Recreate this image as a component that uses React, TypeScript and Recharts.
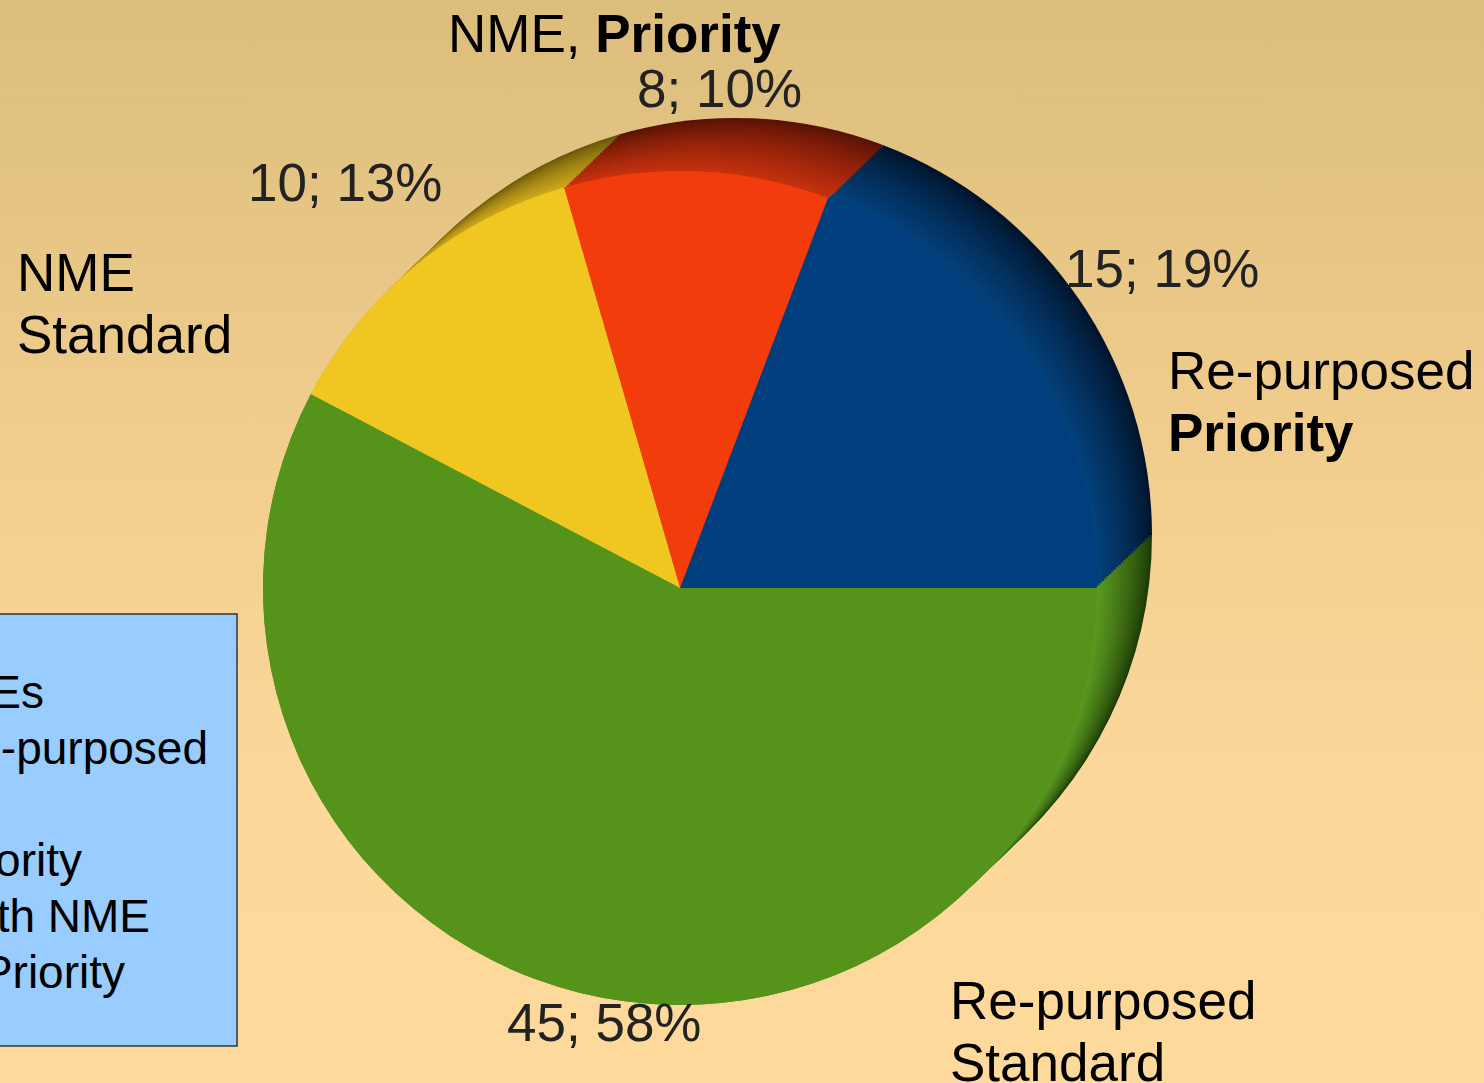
import React from 'react';
import { PieChart, Pie, Cell } from 'recharts';

const categories = ['Re-purposed Priority', 'NME Priority', 'NME Standard', 'Re-purposed Standard'];
const counts = [15, 8, 10, 45];
const faceColors = ['#013e7d', '#f23c0c', '#f0c721', '#56931a'];
const sideNearColors = ['#04437f', '#c8320e', '#cfaa1c', '#5c9c20'];
const sideFarColors = ['#01142c', '#581206', '#6a570b', '#1d3a07'];
// label text per slice: each line is a list of [text, bold]
const nameLines: [string, boolean][][][] = [
  [[['Re-purposed', false]], [['Priority', true]]],
  [[['NME, ', false], ['Priority', true]]],
  [[['NME', false]], [['Standard', false]]],
  [[['Re-purposed', false]], [['Standard', false]]],
];
const legendLines = ['NMEs', 'Re-purposed', '', 'Priority', 'with NME', 'Priority'];

const data = categories.map((name, i) => ({ name, value: counts[i] }));

const FONT = '"Liberation Sans", Arial, sans-serif';
const CX = 680;
const CY = 588;
const R = 417;
// extrusion of the 3d pie, towards the top right
const DEPTH_X = 55;
const DEPTH_Y = -53;
const LAYERS = 24;

function mix(a: string, b: string, t: number) {
  const pa = [1, 3, 5].map((k) => parseInt(a.slice(k, k + 2), 16));
  const pb = [1, 3, 5].map((k) => parseInt(b.slice(k, k + 2), 16));
  return 'rgb(' + pa.map((v, i) => Math.round(v + (pb[i] - v) * t)).join(',') + ')';
}

function SliceLabel(props: any) {
  const { cx, cy, index, value, percent } = props;
  // hand placed like the original slide
  const spots = [
    { vx: 385, vy: -301, nx: 488, ny: -199 },
    { vx: -43, vy: -481, nx: -232, ny: -536 },
    { vx: -432, vy: -387, nx: -663, ny: -297 },
    { vx: -173, vy: 453, nx: 270, ny: 431 },
  ];
  const s = spots[index];
  const lines = nameLines[index];
  return (
    <g style={{ fontFamily: FONT, fontSize: 53 }}>
      <text x={cx + s.vx} y={cy + s.vy} fill="#222">
        {`${value}; ${Math.round(percent * 100)}%`}
      </text>
      {lines.map((line, li) => (
        <text key={li} x={cx + s.nx} y={cy + s.ny + li * 62} fill="#000">
          {line.map(([t, b], k) => (
            <tspan key={k} fontWeight={b ? 'bold' : 'normal'} style={{ whiteSpace: 'pre' }}>{t}</tspan>
          ))}
        </text>
      ))}
    </g>
  );
}

export default function App() {
  const layers = Array.from({ length: LAYERS }, (_, k) => k / (LAYERS - 1));
  return (
    <div style={{
      position: 'absolute', left: 0, top: 0, width: 1484, height: 1083, overflow: 'hidden',
      background: 'linear-gradient(to bottom, #dbbd7c 0%, #f3cf8f 45%, #fcd99b 75%, #fdda9c 100%)',
    }}>
      <PieChart width={1484} height={1083} margin={{ top: 0, right: 0, bottom: 0, left: 0 }}>
        {layers.map((t) => (
          <Pie key={`side-${t}`} data={data} dataKey="value"
            cx={CX + DEPTH_X * (1 - t)} cy={CY + DEPTH_Y * (1 - t)} outerRadius={R}
            startAngle={0} endAngle={360} stroke="none" isAnimationActive={false} label={false} labelLine={false}>
            {data.map((d, i) => <Cell key={d.name} fill={mix(sideFarColors[i], sideNearColors[i], Math.pow(t, 0.8))} />)}
          </Pie>
        ))}
        <Pie data={data} dataKey="value" cx={CX} cy={CY} outerRadius={R} startAngle={0} endAngle={360}
          stroke="none" isAnimationActive={false} label={SliceLabel} labelLine={false}>
          {data.map((d, i) => <Cell key={d.name} fill={faceColors[i]} />)}
        </Pie>
      </PieChart>
      <svg width={240} height={1083} style={{ position: 'absolute', left: 0, top: 0 }}>
        <rect x={-5} y={614} width={242} height={432} fill="#99ccff" stroke="#333" strokeWidth={1.5} />
        {legendLines.map((t, i) => {
          const ends = [44, 208, 0, 82, 150, 125];
          return t ? (
            <text key={i} x={ends[i]} y={708 + i * 56} textAnchor="end" fontFamily={FONT} fontSize={46} fill="#000">{t}</text>
          ) : null;
        })}
      </svg>
    </div>
  );
}
